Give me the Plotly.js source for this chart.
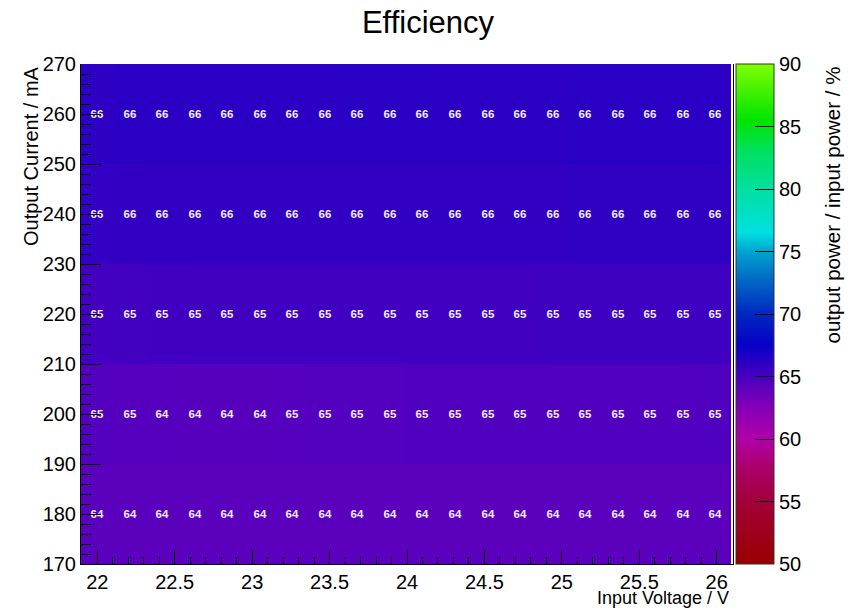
<!DOCTYPE html>
<html>
<head>
<meta charset="utf-8">
<script src="https://cdn.plot.ly/plotly-3.0.1.min.js"></script>
<style>html,body{margin:0;padding:0;background:#fff;}#plot{width:848px;height:608px;}</style>
</head>
<body>
<div id="plot"></div>
<script>
// Bin centres (input voltage, V) and output current (mA)
const voltage = [22.0, 22.21, 22.42, 22.63, 22.84, 23.05, 23.26, 23.47, 23.68, 23.89,
                 24.1, 24.31, 24.52, 24.73, 24.94, 25.15, 25.36, 25.57, 25.78, 25.99];
const current = [180, 200, 220, 240, 260];

// Efficiency (%) per row (one array per output current)
const eff180 = [64.2, 64.2, 64.2, 64.2, 64.2, 64.2, 64.2, 64.2, 64.2, 64.2,
                64.2, 64.2, 64.2, 64.2, 64.2, 64.2, 64.2, 64.2, 64.2, 64.2];
const eff200 = [64.56, 64.52, 64.44, 64.43, 64.43, 64.42, 64.52, 64.54, 64.55, 64.56,
                64.58, 64.59, 64.6, 64.6, 64.61, 64.62, 64.63, 64.63, 64.64, 64.65];
const eff220 = [65.2, 65.25, 65.28, 65.3, 65.3, 65.32, 65.33, 65.34, 65.35, 65.35,
                65.36, 65.36, 65.37, 65.37, 65.38, 65.38, 65.38, 65.39, 65.39, 65.4];
const eff240 = [65.8, 65.82, 65.84, 65.85, 65.86, 65.86, 65.87, 65.88, 65.88, 65.89,
                65.9, 65.9, 65.9, 65.91, 65.91, 65.92, 65.92, 65.92, 65.93, 65.93];
const eff260 = [66.0, 66.1, 66.15, 66.15, 66.1, 66.1, 66.12, 66.15, 66.2, 66.2,
                66.2, 66.15, 66.12, 66.12, 66.12, 66.18, 66.2, 66.2, 66.18, 66.15];

// Colour palette (value stops and colours)
const cbStops  = [50, 55, 58, 60, 62.5, 65, 67.5, 70, 72.5, 75, 76.5, 80, 83, 85.5, 90];
const cbColors = ['#990000', '#a3003a', '#ad0070', '#b000a8', '#8400b8', '#4800c0',
                  '#0800c8', '#0028c0', '#0064c4', '#00a4d0', '#00e0e0', '#00e0a0',
                  '#00e060', '#00e400', '#80ff00'];

const zmin = 50, zmax = 90;
const colorscale = cbStops.map((v, i) => [(v - zmin) / (zmax - zmin), cbColors[i]]);

const font = 'Liberation Sans, Arial, Helvetica, sans-serif';

const trace = {
  type: 'heatmap',
  x: voltage,
  y: current,
  z: [eff180, eff200, eff220, eff240, eff260],
  zmin: zmin, zmax: zmax,
  colorscale: colorscale,
  texttemplate: '%{z:.0f}',
  textfont: {family: font, size: 11.5, color: '#f2ecff', weight: 'bold'},
  hoverinfo: 'x+y+z',
  colorbar: {
    x: (736 - 81) / 652, xanchor: 'left', xpad: 0,
    y: 0.5, yanchor: 'middle', len: 1, lenmode: 'fraction', ypad: 0,
    thickness: 38, thicknessmode: 'pixels',
    outlinewidth: 1, outlinecolor: '#333',
    tickmode: 'linear', tick0: 50, dtick: 5,
    ticks: 'inside', ticklen: 19, tickwidth: 1, tickcolor: '#000',
    tickfont: {family: font, size: 20, color: '#000'},
    ticklabelposition: 'outside'
  }
};

const layout = {
  width: 848, height: 608,
  margin: {l: 81, r: 115, t: 64, b: 44, pad: 0},
  paper_bgcolor: '#fff', plot_bgcolor: '#fff',
  font: {family: font, color: '#000'},
  title: {text: 'Efficiency', font: {family: font, size: 31, color: '#000'},
          x: 428 / 848, xanchor: 'center', y: 1 - 22 / 608, yanchor: 'middle'},
  xaxis: {
    range: [21.895, 26.105], tickmode: 'linear', tick0: 22, dtick: 0.5,
    ticks: 'inside', ticklen: 14, tickwidth: 1, tickcolor: '#000',
    minor: {dtick: 0.1, ticks: 'inside', ticklen: 7, tickcolor: '#000', tickwidth: 1},
    showline: true, linecolor: '#000', linewidth: 1, mirror: false,
    showgrid: false, zeroline: false,
    tickfont: {family: font, size: 20, color: '#000'}
  },
  yaxis: {
    range: [170, 270], tickmode: 'linear', tick0: 170, dtick: 10,
    ticks: 'inside', ticklen: 20, tickwidth: 1, tickcolor: '#000',
    minor: {dtick: 2, ticks: 'inside', ticklen: 10, tickcolor: '#000', tickwidth: 1},
    showline: true, linecolor: '#000', linewidth: 1, mirror: true,
    showgrid: false, zeroline: false,
    tickfont: {family: font, size: 20, color: '#000'}
  },
  annotations: [
    {text: 'Input Voltage / V', xref: 'paper', yref: 'paper',
     x: (731 - 81) / 652, xanchor: 'right', y: -(598 - 564) / 500, yanchor: 'middle',
     showarrow: false, font: {family: font, size: 18, color: '#000'}},
    {text: 'Output Current / mA', xref: 'paper', yref: 'paper', textangle: -90,
     x: (31 - 81) / 652, xanchor: 'center', y: 1.0, yanchor: 'top',
     showarrow: false, font: {family: font, size: 20, color: '#000'}},
    {text: 'output power / input power / %', xref: 'paper', yref: 'paper', textangle: -90,
     x: (832 - 81) / 652, xanchor: 'center', y: 1.0, yanchor: 'top',
     showarrow: false, font: {family: font, size: 20.5, color: '#000'}}
  ]
};

Plotly.newPlot('plot', [trace], layout, {displayModeBar: false, staticPlot: true});
</script>
</body>
</html>
